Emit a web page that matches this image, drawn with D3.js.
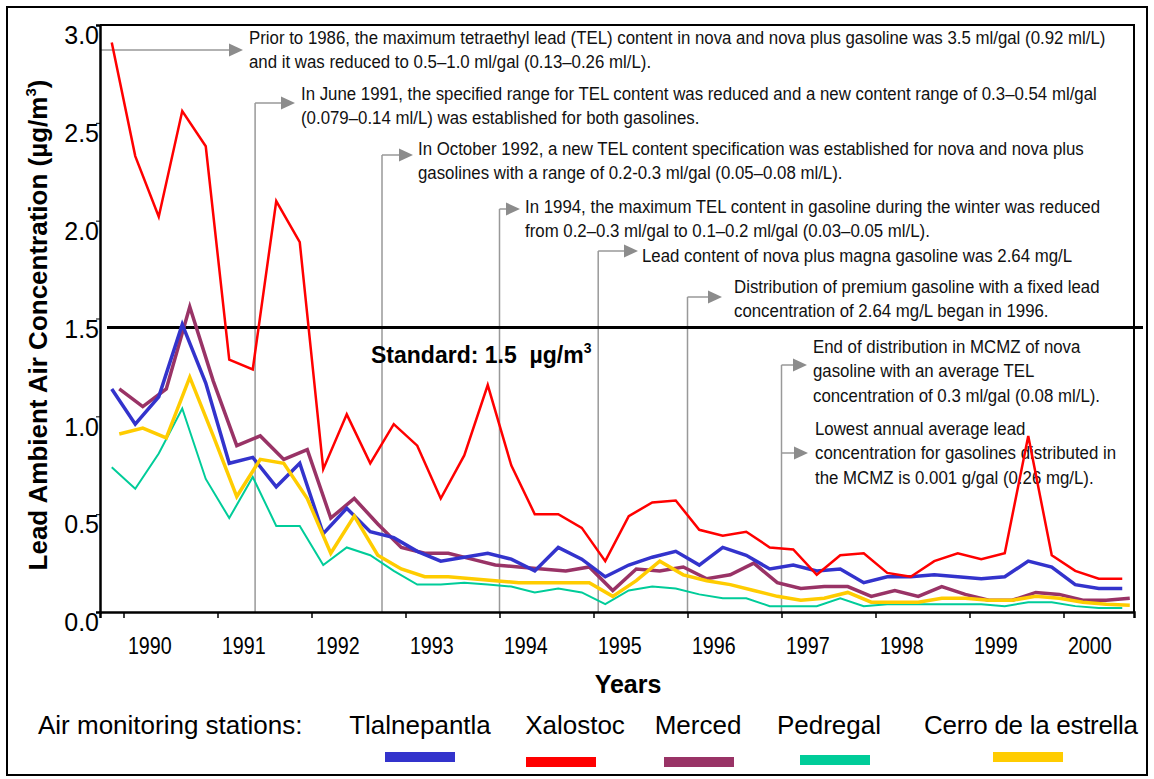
<!DOCTYPE html>
<html>
<head>
<meta charset="utf-8">
<script src="https://d3js.org/d3.v7.min.js"></script>
<style>
  body { margin: 0; background: #fff; }
  svg { display: block; font-family: "Liberation Sans", Arial, sans-serif; }
  .note { font-size: 18.5px; fill: #111; }
  .axis path, .axis line { stroke: #000; }
</style>
</head>
<body>
<div id="chart"></div>
<script>
// quarterly averages, first point = last quarter of 1989
var firstQuarter = 1989.875;
var years = [1990, 1991, 1992, 1993, 1994, 1995, 1996, 1997, 1998, 1999, 2000];
var yTicks = [0, 0.5, 1, 1.5, 2, 2.5, 3];
var standard = 1.5;

var tlalnepantla = [1.14, 0.96, 1.10, 1.47, 1.17, 0.76, 0.79, 0.64, 0.76, 0.40, 0.53, 0.41, 0.38, 0.31, 0.26, 0.28,
  0.30, 0.27, 0.21, 0.33, 0.27, 0.18, 0.24, 0.28, 0.31, 0.24, 0.33, 0.29, 0.22, 0.24, 0.21, 0.22,
  0.15, 0.18, 0.18, 0.19, 0.18, 0.17, 0.18, 0.26, 0.23, 0.14, 0.12, 0.12];
var xalostoc = [2.91, 2.33, 2.02, 2.56, 2.38, 1.29, 1.24, 2.10, 1.89, 0.73, 1.01, 0.76, 0.96, 0.85, 0.58, 0.80,
  1.16, 0.75, 0.50, 0.50, 0.43, 0.26, 0.49, 0.56, 0.57, 0.42, 0.39, 0.41, 0.33, 0.32, 0.19, 0.29,
  0.30, 0.20, 0.18, 0.26, 0.30, 0.27, 0.30, 0.90, 0.29, 0.21, 0.17, 0.17];
var merced = [1.14, 1.05, 1.14, 1.56, 1.18, 0.85, 0.90, 0.78, 0.83, 0.48, 0.58, 0.45, 0.33, 0.30, 0.30, 0.27,
  0.24, 0.23, 0.22, 0.21, 0.23, 0.11, 0.22, 0.21, 0.23, 0.17, 0.19, 0.25, 0.15, 0.12, 0.13, 0.13,
  0.08, 0.11, 0.08, 0.13, 0.09, 0.06, 0.06, 0.10, 0.09, 0.06, 0.06, 0.07];
var pedregal = [0.74, 0.63, 0.81, 1.04, 0.68, 0.48, 0.69, 0.44, 0.44, 0.24, 0.33, 0.29, 0.21, 0.14, 0.14, 0.15,
  0.14, 0.13, 0.10, 0.12, 0.10, 0.04, 0.11, 0.13, 0.12, 0.09, 0.07, 0.07, 0.03, 0.03, 0.03, 0.07,
  0.03, 0.04, 0.04, 0.04, 0.04, 0.04, 0.03, 0.05, 0.05, 0.03, 0.02, 0.02];
var cerro = [0.91, 0.94, 0.89, 1.20, 0.90, 0.59, 0.78, 0.76, 0.58, 0.30, 0.49, 0.29, 0.22, 0.18, 0.18, 0.17,
  0.16, 0.15, 0.15, 0.15, 0.15, 0.08, 0.16, 0.26, 0.19, 0.16, 0.14, 0.11, 0.08, 0.06, 0.07, 0.10,
  0.05, 0.05, 0.05, 0.07, 0.07, 0.06, 0.06, 0.08, 0.07, 0.05, 0.04, 0.035];

var stationNames = ["Tlalnepantla", "Xalostoc", "Merced", "Pedregal", "Cerro de la estrella"];
var stationColors = ["#3333cc", "#ff0000", "#993366", "#00cc99", "#ffcc00"];

// events marked with arrows (date of the change)
var noteDates = [null, 1991.4, 1992.75, 1994.0, 1995.05, 1996.0, 1997.0, 1997.0];
var noteTexts = [
  ["Prior to 1986, the maximum tetraethyl lead (TEL) content in nova and nova plus gasoline was 3.5 ml/gal (0.92 ml/L)",
   "and it was reduced to 0.5\u20131.0 ml/gal (0.13\u20130.26 ml/L)."],
  ["In June 1991, the specified range for TEL content was reduced and a new content range of 0.3\u20130.54 ml/gal",
   "(0.079\u20130.14 ml/L) was established for both gasolines."],
  ["In October 1992, a new TEL content specification was established for nova and nova plus",
   "gasolines with a range of 0.2-0.3 ml/gal (0.05\u20130.08 ml/L)."],
  ["In 1994, the maximum TEL content in gasoline during the winter was reduced",
   "from 0.2\u20130.3 ml/gal to 0.1\u20130.2 ml/gal (0.03\u20130.05 ml/L)."],
  ["Lead content of nova plus magna gasoline was 2.64 mg/L"],
  ["Distribution of premium gasoline with a fixed lead",
   "concentration of 2.64 mg/L began in 1996."],
  ["End of distribution in MCMZ of nova",
   "gasoline with an average TEL",
   "concentration of 0.3 ml/gal (0.08 ml/L)."],
  ["Lowest annual average lead",
   "concentration for gasolines distributed in",
   "the MCMZ is 0.001 g/gal (0.26 mg/L)."]
];

var width = 1154, height = 779;
var plotLeft = 100, plotRight = 1134, plotTop = 25, plotBottom = 612;

var svg = d3.select("#chart").append("svg")
  .attr("width", width)
  .attr("height", height);

// outer frame
svg.append("rect")
  .attr("x", 7).attr("y", 7)
  .attr("width", 1140).attr("height", 768)
  .attr("fill", "none").attr("stroke", "#000").attr("stroke-width", 2);

var x = d3.scaleLinear().domain([1989.75, 2000.75]).range([plotLeft, plotRight]);
var y = d3.scaleLinear().domain([0, 3]).range([plotBottom, plotTop]);

// plot box (top + right)
svg.append("path")
  .attr("d", "M" + plotLeft + "," + plotTop + "H" + plotRight + "V" + plotBottom)
  .attr("fill", "none").attr("stroke", "#000").attr("stroke-width", 2);

// annotation arrows + text
var arrowY = [50, 103, 155, 209, 251, 297, 365, 453];
var tipX = [243, 295, 413, 520, 638, 722, 807, 808];
var textX = [249, 301, 418, 525, 642, 734, 813, 815];
var textY = [44, 100, 155, 213, 262, 293, 353, 435];
var grey = "#999";
var squeeze = 0.91; // narrow font look

for (var i = 0; i < noteTexts.length; i++) {
  var x0 = noteDates[i] == null ? plotLeft : x(noteDates[i]);
  if (noteDates[i] != null && i != 7) {
    svg.append("line")
      .attr("x1", x0).attr("x2", x0)
      .attr("y1", plotBottom).attr("y2", arrowY[i])
      .attr("stroke", grey).attr("stroke-width", 1.5);
  }
  svg.append("line")
    .attr("x1", x0).attr("x2", tipX[i] - 12)
    .attr("y1", arrowY[i]).attr("y2", arrowY[i])
    .attr("stroke", grey).attr("stroke-width", 1.5);
  svg.append("path")
    .attr("d", "M" + tipX[i] + "," + arrowY[i] + "l-14,-6.5v13z")
    .attr("fill", "#8c8c8c");

  var t = svg.append("text").attr("class", "note")
    .attr("transform", "translate(" + textX[i] + "," + textY[i] + ") scale(" + squeeze + ",1)");
  noteTexts[i].forEach(function(s, k) {
    t.append("tspan").attr("x", 0).attr("y", k * 24.5).text(s);
  });
}

// standard line
svg.append("line")
  .attr("x1", 107).attr("x2", 1143)
  .attr("y1", y(standard) + 9).attr("y2", y(standard) + 9)
  .attr("stroke", "#000").attr("stroke-width", 3);

var std = svg.append("text")
  .attr("x", 371).attr("y", y(standard) + 44)
  .attr("font-size", 23).attr("font-weight", "bold")
  .style("white-space", "pre");
std.append("tspan").text("Standard: 1.5  \u00b5g/m");
std.append("tspan").attr("font-size", 14).attr("dy", -10).text("3");

// axes
var yAxis = svg.append("g").attr("class", "axis")
  .attr("transform", "translate(" + plotLeft + ",0)")
  .call(d3.axisLeft(y).tickValues(yTicks).tickSize(4).tickFormat(d3.format(".1f")));
yAxis.select(".domain").attr("stroke-width", 2.5);
yAxis.selectAll("text")
  .attr("font-size", 25).attr("font-family", "Liberation Sans, Arial, sans-serif")
  .attr("x", -1).attr("dy", "0.75em").attr("fill", "#000");

var xAxis = svg.append("g").attr("class", "axis")
  .attr("transform", "translate(0," + plotBottom + ")")
  .call(d3.axisBottom(x).tickValues(years).tickSize(6).tickFormat(""));
xAxis.select(".domain").attr("stroke-width", 2.5);
xAxis.selectAll(".tick line").attr("stroke-width", 1.5);

svg.selectAll(".year").data(years).enter().append("text")
  .attr("class", "year")
  .attr("transform", function(d) { return "translate(" + x(d + 0.28) + ",654) scale(0.82,1)"; })
  .attr("text-anchor", "middle")
  .attr("font-size", 24)
  .text(function(d) { return d; });

svg.append("text")
  .attr("x", 628).attr("y", 693)
  .attr("text-anchor", "middle")
  .attr("font-size", 25).attr("font-weight", "bold")
  .text("Years");

var yt = svg.append("text")
  .attr("transform", "translate(47,325) rotate(-90)")
  .attr("text-anchor", "middle")
  .attr("font-size", 26).attr("font-weight", "bold");
yt.append("tspan").text("Lead Ambient Air Concentration (\u00b5g/m");
yt.append("tspan").attr("font-size", 15).attr("dy", -11).text("3");
yt.append("tspan").attr("dy", 11).text(")");

// data lines
var line = d3.line()
  .x(function(d) { return x(d.t); })
  .y(function(d) { return y(d.v); });

function points(arr, shift) {
  return arr.map(function(v, i) { return { t: firstQuarter + shift + i * 0.25, v: v }; });
}

var series = [
  { data: pedregal, color: stationColors[3], w: 2, shift: 0 },
  { data: merced, color: stationColors[2], w: 3.5, shift: 0.08 },
  { data: tlalnepantla, color: stationColors[0], w: 3.5, shift: 0 },
  { data: cerro, color: stationColors[4], w: 3.5, shift: 0.08 },
  { data: xalostoc, color: stationColors[1], w: 2.5, shift: 0 }
];

series.forEach(function(s) {
  svg.append("path")
    .datum(points(s.data, s.shift))
    .attr("d", line)
    .attr("fill", "none")
    .attr("stroke", s.color)
    .attr("stroke-width", s.w)
    .attr("stroke-linejoin", "miter");
});

// legend
svg.append("text")
  .attr("x", 38).attr("y", 734)
  .attr("font-size", 26)
  .text("Air monitoring stations:");

var nameX = [420, 575, 698, 829, 1031];
var swatchX = [420, 561, 699, 835, 1028];
var swatchY = [757, 762, 762, 760, 757];

stationNames.forEach(function(name, i) {
  svg.append("text")
    .attr("x", nameX[i]).attr("y", 734)
    .attr("text-anchor", "middle")
    .attr("font-size", 26)
    .attr("textLength", i == 4 ? 214 : null)
    .text(name);
  svg.append("rect")
    .attr("x", swatchX[i] - 35).attr("y", swatchY[i] - 5)
    .attr("width", 70).attr("height", 10)
    .attr("fill", stationColors[i]);
});
</script>
</body>
</html>
